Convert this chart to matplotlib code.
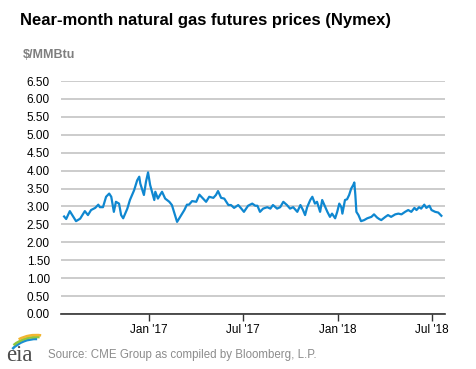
import numpy as np
import pandas as pd
import matplotlib
matplotlib.use('Agg')
import matplotlib.pyplot as plt
from matplotlib.patches import Arc

plt.rcParams['font.family'] = ['Liberation Sans', 'DejaVu Sans']

# near-month futures price, $/MMBtu
dates = ['2016-07-21', '2016-07-25', '2016-08-01', '2016-08-13', '2016-08-21', '2016-08-30',
         '2016-09-05', '2016-09-11', '2016-09-19', '2016-09-25', '2016-09-28', '2016-10-04',
         '2016-10-10', '2016-10-16', '2016-10-20', '2016-10-25', '2016-10-29', '2016-11-04',
         '2016-11-08', '2016-11-12', '2016-11-20', '2016-11-25', '2016-12-03', '2016-12-09',
         '2016-12-13', '2016-12-15', '2016-12-22', '2016-12-26', '2016-12-30', '2017-01-03',
         '2017-01-11', '2017-01-13', '2017-01-18', '2017-01-22', '2017-01-26', '2017-02-01',
         '2017-02-09', '2017-02-14', '2017-02-20', '2017-02-24', '2017-03-02', '2017-03-10',
         '2017-03-15', '2017-03-19', '2017-03-25', '2017-04-02', '2017-04-08', '2017-04-15',
         '2017-04-21', '2017-04-27', '2017-05-05', '2017-05-10', '2017-05-14', '2017-05-20',
         '2017-05-26', '2017-06-03', '2017-06-08', '2017-06-14', '2017-06-22', '2017-06-28',
         '2017-07-03', '2017-07-11', '2017-07-19', '2017-07-25', '2017-07-29', '2017-08-03',
         '2017-08-09', '2017-08-17', '2017-08-23', '2017-08-28', '2017-09-05', '2017-09-11',
         '2017-09-17', '2017-09-24', '2017-09-30', '2017-10-06', '2017-10-14', '2017-10-20',
         '2017-10-25', '2017-10-29', '2017-11-02', '2017-11-08', '2017-11-12', '2017-11-17',
         '2017-11-21', '2017-11-27', '2017-12-01', '2017-12-07', '2017-12-11', '2017-12-16',
         '2017-12-20', '2017-12-26', '2017-12-30', '2018-01-03', '2018-01-07', '2018-01-09',
         '2018-01-14', '2018-01-18', '2018-01-22', '2018-01-26', '2018-01-30', '2018-02-01',
         '2018-02-03', '2018-02-05', '2018-02-09', '2018-02-14', '2018-02-20', '2018-02-26',
         '2018-03-06', '2018-03-11', '2018-03-17', '2018-03-21', '2018-03-25', '2018-04-02',
         '2018-04-07', '2018-04-13', '2018-04-21', '2018-04-27', '2018-05-03', '2018-05-10',
         '2018-05-16', '2018-05-22', '2018-05-28', '2018-06-01', '2018-06-06', '2018-06-10',
         '2018-06-16', '2018-06-20', '2018-06-26', '2018-06-30', '2018-07-07', '2018-07-13',
         '2018-07-19']
prices = [2.72, 2.65, 2.87, 2.59, 2.66, 2.87,
          2.76, 2.90, 2.96, 3.05, 2.98, 2.98,
          3.27, 3.36, 3.27, 2.85, 3.13, 3.08,
          2.76, 2.67, 2.94, 3.18, 3.45, 3.73,
          3.83, 3.64, 3.32, 3.69, 3.95, 3.60,
          3.18, 3.41, 3.22, 3.32, 3.41, 3.22,
          3.13, 3.04, 2.76, 2.57, 2.71, 2.90,
          3.05, 3.05, 3.15, 3.13, 3.33, 3.22,
          3.13, 3.27, 3.24, 3.32, 3.43, 3.24,
          3.22, 3.04, 3.04, 2.96, 3.04, 2.94,
          2.85, 3.02, 3.08, 3.02, 3.02, 2.85,
          2.94, 2.98, 2.94, 3.04, 2.94, 2.98,
          3.13, 3.04, 2.94, 2.98, 2.85, 3.04,
          2.90, 2.76, 2.98, 3.18, 3.27, 3.08,
          3.13, 2.85, 3.18, 2.98, 2.85, 2.71,
          2.80, 2.67, 2.85, 3.08, 2.98, 2.80,
          3.18, 3.20, 3.32, 3.50, 3.60, 3.67,
          3.32, 2.85, 2.76, 2.59, 2.62, 2.67,
          2.71, 2.78, 2.69, 2.65, 2.62, 2.71,
          2.76, 2.71, 2.78, 2.80, 2.78, 2.85,
          2.90, 2.85, 2.96, 2.90, 2.98, 2.94,
          3.05, 2.96, 3.02, 2.90, 2.85, 2.83,
          2.74]

tick_dates = ['2017-01-01', '2017-07-01', '2018-01-01', '2018-07-01']
tick_labels = ["Jan '17", "Jul '17", "Jan '18", "Jul '18"]
y_ticks = np.arange(0, 6.51, 0.5)

x = pd.to_datetime(dates)

fig = plt.figure(figsize=(4.77, 3.69), dpi=100)
ax = fig.add_axes([61 / 477, 1 - 314 / 369, 384 / 477, 233 / 369])

ax.plot(x, prices, color='#0f87d0', lw=1.6, solid_joinstyle='round')

ax.set_xlim(pd.Timestamp('2016-07-15'), pd.Timestamp('2018-07-26'))
ax.set_ylim(0, 6.5)
ax.set_yticks(y_ticks)
ax.set_yticklabels(['%.2f' % v for v in y_ticks])
ax.set_xticks(pd.to_datetime(tick_dates))
ax.set_xticklabels(tick_labels)

ax.grid(axis='y', color='#cccccc', lw=1.4)
ax.set_axisbelow(True)
for s in ['top', 'right', 'left']:
    ax.spines[s].set_visible(False)
ax.spines['bottom'].set_color('#333333')
ax.spines['bottom'].set_linewidth(1.2)
ax.tick_params(axis='y', length=0, labelsize=8.5, pad=8, colors='black')
ax.tick_params(axis='x', length=5, width=1, color='#333333', labelsize=8.5, pad=2)

fig.text(20 / 477, 1 - 20 / 369, 'Near-month natural gas futures prices (Nymex)',
         fontsize=12, fontweight='bold', va='center', ha='left')
fig.text(23 / 477, 1 - 55 / 369, '$/MMBtu', fontsize=9, fontweight='bold',
         color='#7f7f7f', va='center', ha='left')
fig.text(48 / 477, 1 - 355 / 369, 'Source: CME Group as compiled by Bloomberg, L.P.',
         fontsize=8.3, color='#8c8c8c', va='center', ha='left')

# eia logo: swoosh + letters
lax = fig.add_axes([0, 1 - 358 / 369, 50 / 477, 28 / 369])
lax.set_xlim(0, 50)
lax.set_ylim(0, 28)
lax.axis('off')
for r, t1, t2, c in [(33, 88, 136, '#1b8fd2'), (35, 84, 130, '#8dc63f'), (37, 82, 118, '#f2b630')]:
    lax.add_patch(Arc((36, -14), 2 * r, 2 * r, theta1=t1, theta2=t2, color=c, lw=1.8))
fig.text(6 / 477, 1 - 361 / 369, 'eia', fontsize=16.5, family='Liberation Serif',
         color='#4d4d4d', va='baseline', ha='left')

fig.savefig('out.png', dpi=100)
